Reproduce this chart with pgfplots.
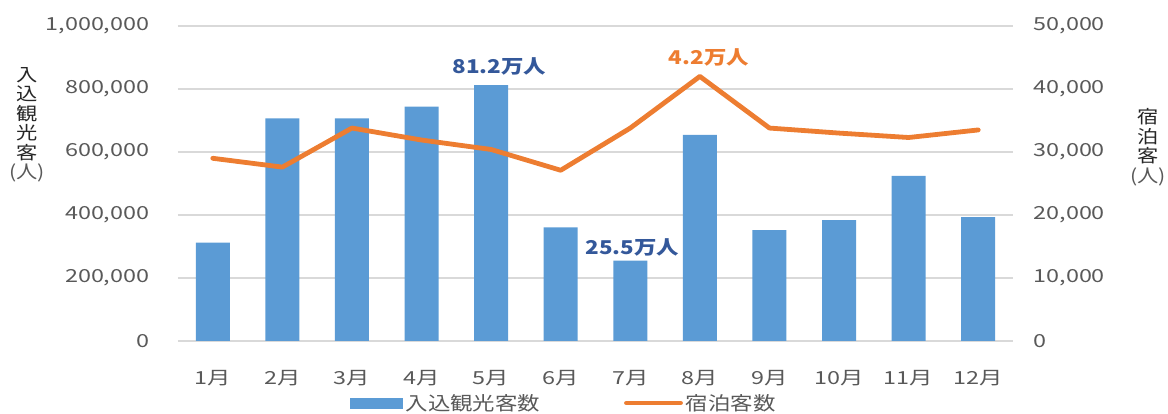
\documentclass[border=0pt]{standalone}
\usepackage{pgfplots}
\pgfplotsset{compat=1.18}
\usepackage{fontspec}
\setmainfont[FakeStretch=1.18]{Noto Sans CJK JP}
\newfontfamily\tickfont[FakeStretch=1.3]{Noto Sans CJK JP}
\definecolor{barblue}{HTML}{5B9BD5}
\definecolor{lineorange}{HTML}{ED7D31}
\definecolor{ticklab}{HTML}{595959}
\definecolor{gridc}{HTML}{D9D9D9}
\definecolor{lblblue}{HTML}{34589A}
\definecolor{axlab}{HTML}{262626}
\begin{document}
\begin{tikzpicture}[x=1pt,y=1pt]
\useasboundingbox (0,0) rectangle (1168,414);
\begin{axis}[
  at={(178pt,73pt)}, anchor=south west,
  scale only axis, width=835pt, height=315pt,
  xmin=-0.5, xmax=11.5, ymin=0, ymax=1000000,
  xtick={0,...,11},
  xticklabels={1月,2月,3月,4月,5月,6月,7月,8月,9月,10月,11月,12月},
  ytick={0,200000,400000,600000,800000,1000000},
  scaled y ticks=false,
  ymajorgrids, grid style={draw=gridc, line width=1.2pt},
  axis line style={draw=none},
  major tick length=0pt,
  ticklabel style={font=\tickfont\fontsize{18}{18}\selectfont, text=ticklab},
  yticklabel style={anchor=east, xshift=-25pt},
  xticklabel style={anchor=center, yshift=-37pt},
  ylabel={入\\込\\観\\光\\客\\{\color{ticklab}(人)}},
  ylabel style={rotate=-90, at={(axis description cs:-0.181,0.686)}, anchor=center, align=center, font=\fontsize{18}{19.5}\selectfont, text=axlab},
  /pgf/number format/fixed,
  /pgf/number format/1000 sep={,},
  /pgf/number format/assume math mode=true,
]
\addplot[ybar, bar width=34pt, fill=barblue, draw=none] coordinates {
  (0,312000) (1,707000) (2,707000) (3,744000) (4,812000) (5,361000)
  (6,255000) (7,654000) (8,352000) (9,384000) (10,524000) (11,393000)
};
\node[font=\bfseries\fontsize{19}{19}\selectfont, text=lblblue] at (axis cs:4.12,873000) {81.2万人};
\node[font=\bfseries\fontsize{19}{19}\selectfont, text=lblblue] at (axis cs:6.03,298000) {25.5万人};
\end{axis}
\begin{axis}[
  at={(178pt,73pt)}, anchor=south west,
  scale only axis, width=835pt, height=315pt,
  xmin=-0.5, xmax=11.5, ymin=0, ymax=50000,
  axis x line=none,
  axis y line*=right,
  axis line style={draw=none},
  ytick={0,10000,20000,30000,40000,50000},
  scaled y ticks=false,
  major tick length=0pt,
  ticklabel style={font=\tickfont\fontsize{18}{18}\selectfont, text=ticklab},
  yticklabel style={anchor=west, xshift=17pt},
  ylabel={宿\\泊\\客\\{\color{ticklab}(人)}},
  ylabel style={rotate=-90, at={(axis description cs:1.162,0.616)}, anchor=center, align=center, font=\fontsize{18}{19.5}\selectfont, text=axlab},
  legend columns=2,
  legend style={draw=none, fill=none, at={(axis description cs:0.206,-0.197)}, anchor=west,
    inner sep=0pt, font=\fontsize{19}{19}\selectfont, text=ticklab,
    nodes={inner xsep=3pt, inner ysep=0pt},
    /tikz/every even column/.append style={column sep=81pt}},
  /pgf/number format/fixed,
  /pgf/number format/1000 sep={,},
  /pgf/number format/assume math mode=true,
]
\addlegendimage{legend image code/.code={\fill[barblue] (0pt,-5pt) rectangle (52pt,5pt);}}
\addlegendentry{入込観光客数}
\addplot[lineorange, line width=4.8pt, line join=round, line cap=round,
  legend image code/.code={\draw[lineorange, line width=4.8pt, line cap=round] (2pt,0pt) -- (56pt,0pt);}] coordinates {
  (0,29000) (1,27600) (2,33800) (3,31900) (4,30400) (5,27100)
  (6,33800) (7,42000) (8,33800) (9,33000) (10,32300) (11,33500)
};
\addlegendentry{宿泊客数}
\node[font=\bfseries\fontsize{19}{19}\selectfont, text=lineorange] at (axis cs:7.13,45000) {4.2万人};
\end{axis}
\end{tikzpicture}
\end{document}
